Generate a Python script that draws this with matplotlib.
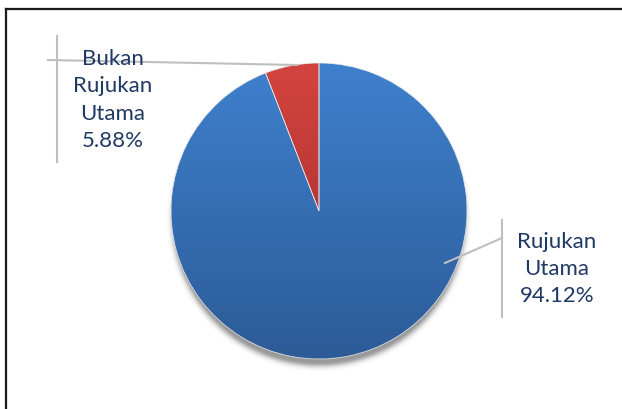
import numpy as np
import matplotlib.pyplot as plt

labels = ['Rujukan\nUtama', 'Bukan\nRujukan\nUtama']
shares = [94.12, 5.88]
top_colors = ['#3f80cd', '#d3443f']
bottom_colors = ['#2c5b97', '#9c2a28']
label_xy = [(557, 269), (113, 100)]

W, H = 622, 409
fig = plt.figure(figsize=(W / 100, H / 100), dpi=100)
ax = fig.add_axes([0, 0, 1, 1])

cx, cy, r = 319, H - 211, 148

# soft drop shadow under the pie
yy, xx = np.mgrid[0:H, 0:W]
d = np.hypot(xx + 0.5 - cx, yy + 0.5 - (cy - 8)) - r + 5
shade = np.zeros((H, W, 4))
shade[..., 3] = 0.4 * np.exp(-np.clip(d, 0, None) ** 2 / (2 * 3.5 ** 2))
ax.imshow(shade, origin='lower', extent=(0, W, 0, H), zorder=1)

wedges, _ = ax.pie(shares, center=(cx, cy), radius=r, startangle=90,
                   counterclock=False,
                   wedgeprops=dict(edgecolor='#e8e8e8', linewidth=0.5))

# vertical gradient fill for each slice
t = np.linspace(0, 1, 256)[:, None]
for w, c0, c1 in zip(wedges, top_colors, bottom_colors):
    a = np.array(plt.matplotlib.colors.to_rgb(c0))
    b = np.array(plt.matplotlib.colors.to_rgb(c1))
    grad = (a * (1 - t) + b * t)[:, None, :].repeat(2, axis=1)
    im = ax.imshow(grad, origin='upper', extent=(cx - r, cx + r, cy - r, cy + r),
                   aspect='auto', zorder=2)
    im.set_clip_path(w)
    w.set_facecolor('none')
    w.set_zorder(3)

# leader lines
lc = '#bfbfbf'
ax.plot([445, 502], [H - 263, H - 238], color=lc, lw=1.5, zorder=4)
ax.plot([502, 502], [H - 220, H - 317], color=lc, lw=1.5, zorder=4)
ax.plot([48, 297], [H - 60, H - 65], color=lc, lw=1.5, zorder=4)
ax.plot([57, 57], [H - 36, H - 162], color=lc, lw=1.5, zorder=4)

for lab, val, (x, y) in zip(labels, shares, label_xy):
    ax.text(x, H - y, f'{lab}\n{val:.2f}%', ha='center', va='center',
            fontsize=16, family='Lato', color='#1f3864', linespacing=1.45,
            zorder=5)

# frame edge along top and left
ax.plot([6, W], [H - 9, H - 9], color='#1a1a1a', lw=1.6, zorder=6)
ax.plot([6, 6], [H - 9, 0], color='#1a1a1a', lw=1.6, zorder=6)

ax.set_xlim(0, W)
ax.set_ylim(0, H)
ax.set_aspect('equal')
ax.axis('off')
fig.savefig('out.png', dpi=100)
